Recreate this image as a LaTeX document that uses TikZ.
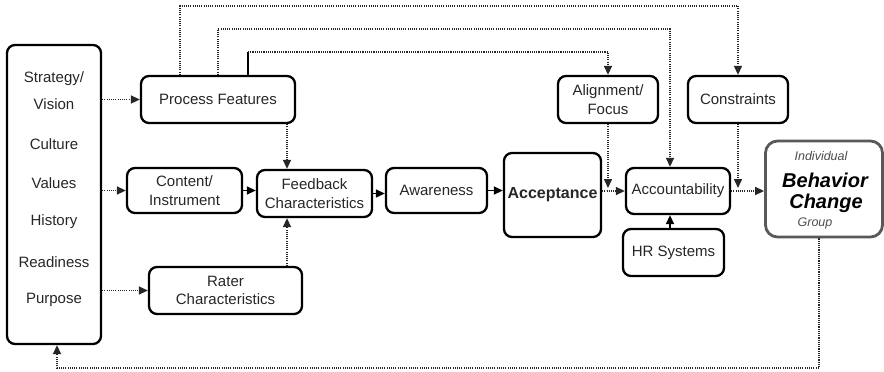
\documentclass[tikz,border=0pt]{standalone}
\usepackage{fontspec}
\setmainfont{Liberation Sans}
\usetikzlibrary{arrows.meta}
\begin{document}
\begin{tikzpicture}[x=1pt,y=-1pt,
  box/.style={draw=black,line width=2.3pt,rounded corners=8pt,inner sep=0pt,align=center,
    font=\fontsize{15}{18.5}\selectfont,text=black!85},
  lbl/.style={inner sep=0pt,align=center,font=\fontsize{15}{27}\selectfont,text=black!85},
  dot/.style={draw=black!85,line width=1.5pt,dash pattern=on 1.1pt off 1.1pt,-{Triangle[length=9pt,width=8pt]}},
  sol/.style={draw=black,line width=1.4pt,-{Triangle[length=9pt,width=8pt]}}]
\useasboundingbox (0,0) rectangle (884,372);
% boxes
\node[box,minimum width=94pt,minimum height=299pt] (left) at (54,194.5) {};
\node[lbl] (l1) at (54,90.5) {Strategy/\\Vision};
\node[lbl] (l2) at (54,144) {Culture};
\node[lbl] (l3) at (54,183) {Values};
\node[lbl] (l4) at (54,222) {History};
\node[lbl] (l5) at (54,262) {Readiness};
\node[lbl] (l6) at (54,300) {Purpose};
\node[box,minimum width=154pt,minimum height=47pt] (pf) at (218,99.5) {Process Features};
\node[box,minimum width=115pt,minimum height=45pt] (ci) at (184.5,190.5) {Content/\\Instrument};
\node[box,minimum width=115pt,minimum height=47pt] (fc) at (314.5,193.5) {Feedback\\Characteristics};
\node[box,minimum width=153pt,minimum height=47pt] (rc) at (225.5,290.5) {Rater\\Characteristics};
\node[box,minimum width=101pt,minimum height=45pt] (aw) at (436.5,190.5) {Awareness};
\node[box,minimum width=97pt,minimum height=84pt,font=\fontsize{16}{18}\selectfont\bfseries] (ac) at (552.5,195) {Acceptance};
\node[box,minimum width=100pt,minimum height=47pt] (al) at (608,99.5) {Alignment/\\Focus};
\node[box,minimum width=100pt,minimum height=47pt] (co) at (738,99.5) {Constraints};
\node[box,minimum width=104pt,minimum height=46pt] (acc) at (678,191) {Accountability};
\node[box,minimum width=101pt,minimum height=47pt] (hr) at (673.5,252.5) {HR Systems};
\node[box,draw=black!65,line width=2.8pt,rounded corners=12pt,minimum width=117pt,minimum height=96pt] (bc) at (824,189) {};
\node[inner sep=0pt,font=\fontsize{12.5}{14}\selectfont\itshape,text=black!70] (bi) at (821,156) {Individual};
\node[inner sep=0pt,font=\fontsize{20}{22}\selectfont\bfseries\itshape] (bb) at (825,180) {Behavior};
\node[inner sep=0pt,font=\fontsize{20}{22}\selectfont\bfseries\itshape] (bh) at (826,203) {Change};
\node[inner sep=0pt,font=\fontsize{12.5}{14}\selectfont\itshape,text=black!70] (bg) at (815,223) {Group};
% helper coordinates
\coordinate (vx) at (287,0);
\coordinate (hx) at (670,0);
\coordinate (t1) at (180,6);
\coordinate (t2) at (218,29);
\coordinate (a2) at (670,0);
\coordinate (t3) at (248,52);
\coordinate (b1) at (819,368);
\coordinate (b2) at (57,368);
% connectors
\draw[dot] (left.east |- pf.west) -- (pf.west);
\draw[dot] (left.east |- ci.west) -- (ci.west);
\draw[dot] (left.east |- rc.west) -- (rc.west);
\draw[sol] (ci.east) -- (fc.west |- ci.east);
\draw[dot] (vx |- pf.south) -- (vx |- fc.north);
\draw[dot] (vx |- rc.north) -- (vx |- fc.south);
\draw[sol] (fc.east) -- (aw.west |- fc.east);
\draw[sol] (aw.east) -- (ac.west |- aw.east);
\draw[dot] (ac.east |- acc.west) -- (acc.west);
\draw[dot] (acc.east) -- (bc.west |- acc.east);
\draw[dot] (al.south) -- ([yshift=3pt]al.south |- acc.west);
\draw[dot] (co.south) -- ([yshift=3pt]co.south |- acc.east);
\draw[sol] (hx |- hr.north) -- (hx |- acc.south);
\draw[dot] (t1 |- pf.north) -- (t1) -| (co.north);
\draw[dot] (t2 |- pf.north) -- (t2) -| (a2 |- acc.north);
\draw[line width=1.4pt] (t3 |- pf.north) -- (t3);
\draw[dot] (t3) -| (al.north);
\draw[dot] (b1 |- bc.south) -- (b1) -- (b2) -- (b2 |- left.south);
\end{tikzpicture}
\end{document}
